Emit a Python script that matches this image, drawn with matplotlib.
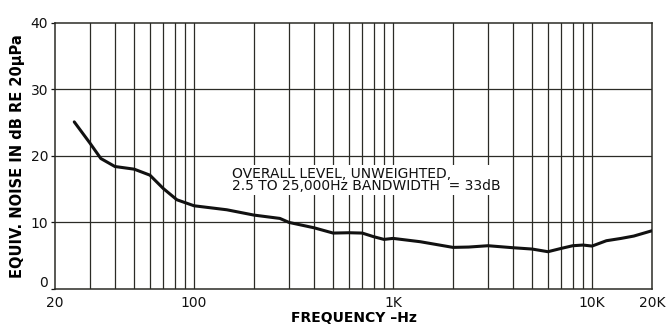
import numpy as np
import matplotlib
matplotlib.use("Agg")
from matplotlib import pyplot as plt
from matplotlib import transforms

# equivalent input noise vs frequency
freq = [25, 30, 34, 40, 50, 60, 70, 82, 100, 146, 200, 270, 300, 400, 500,
        600, 700, 800, 900, 1000, 1370, 2000, 2400, 3000, 4000, 5000, 6000,
        7000, 8000, 9000, 10000, 11800, 14000, 16200, 20000]
level = [25.1, 21.9, 19.6, 18.4, 18.0, 17.1, 15.1, 13.4, 12.5, 11.9, 11.1,
         10.6, 10.0, 9.2, 8.4, 8.45, 8.4, 7.85, 7.45, 7.6, 7.1, 6.25, 6.3,
         6.5, 6.2, 6.0, 5.6, 6.1, 6.5, 6.6, 6.45, 7.25, 7.6, 7.95, 8.75]

xticks = [20, 100, 1000, 10000, 20000]
xticklabels = ["20", "100", "1K", "10K", "20K"]
yticks = [0, 10, 20, 30, 40]
note = "OVERALL LEVEL, UNWEIGHTED,\n2.5 TO 25,000Hz BANDWIDTH  = 33dB"

ink = "#2b2b26"

fig = plt.figure(figsize=(6.68, 3.29), dpi=100)
ax = fig.add_axes([0.0823, 0.1216, 0.8937, 0.8094])

# log graph paper: 2..9 lines in each decade, none past 10K
vlines = []
for dec in [10, 100, 1000]:
    for k in range(1, 10):
        f = k * dec
        if 20 < f <= 10000:
            vlines.append(f)
vlines.append(10000)
for f in vlines:
    ax.axvline(f, color=ink, lw=0.9, zorder=1)
for v in [10, 20, 30]:
    ax.axhline(v, color=ink, lw=0.9, zorder=1)

ax.plot(freq, level, color="#111111", lw=2.2, solid_capstyle="round", zorder=3)

ax.set_xscale("log")
ax.set_xlim(20, 20000)
ax.set_ylim(0, 40)
ax.set_xticks(xticks)
ax.set_xticklabels(xticklabels)
ax.xaxis.set_minor_locator(matplotlib.ticker.NullLocator())
ax.set_yticks(yticks)
ax.set_yticklabels([str(v) for v in yticks])
ax.tick_params(axis="x", length=0, pad=5, labelsize=10, colors="#111111")
ax.tick_params(axis="y", length=3, width=0.9, pad=2, labelsize=10, colors="#111111")
# lift the "0" so it clears the "20" underneath
lbl0 = ax.get_yticklabels()[0]
lbl0.set_transform(lbl0.get_transform() +
                   transforms.ScaledTranslation(0, 7 / 100, fig.dpi_scale_trans))
for s in ax.spines.values():
    s.set_color(ink)
    s.set_linewidth(1.1)

ax.set_xlabel("FREQUENCY \u2013Hz", fontsize=10, fontweight="bold", labelpad=1)
ax.set_ylabel("EQUIV. NOISE IN dB RE 20\u03bcPa", fontsize=10.5,
              fontweight="bold", labelpad=4)

ax.text(155, 16.4, note, fontsize=10, color="#111111", ha="left", va="center",
        linespacing=0.85,
        bbox=dict(facecolor="white", edgecolor="none", pad=1.5), zorder=2)

fig.savefig("out.png", dpi=100)
